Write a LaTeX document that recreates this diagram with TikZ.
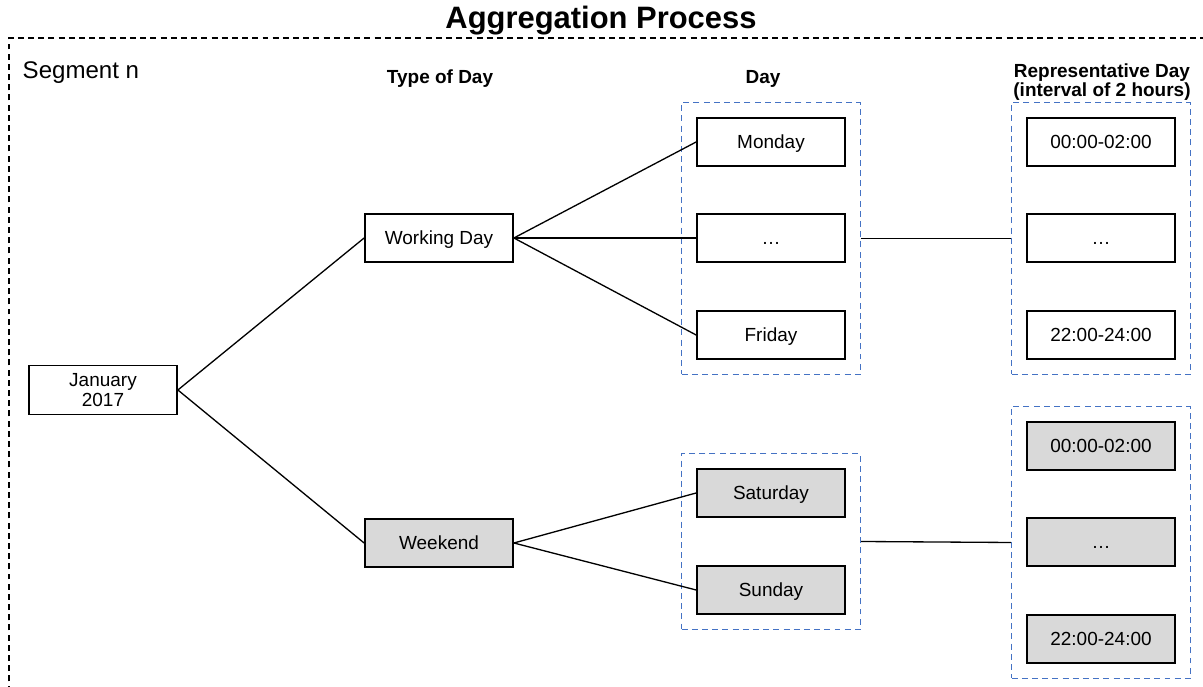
\documentclass[tikz,border=0pt]{standalone}
\usepackage{fontspec}
\setmainfont{Liberation Sans}
\usepackage{xcolor}
\usepackage{tikz}
\usetikzlibrary{positioning, fit}
\definecolor{dgrey}{HTML}{D9D9D9}
\definecolor{dblue}{HTML}{4472C4}

\begin{document}
\begin{tikzpicture}[x=1cm, y=1cm,
  daybox/.style={draw=black, line width=1pt, minimum width=2.96cm, minimum height=0.96cm,
    inner sep=0pt, text height=0.72em, text depth=0pt, font=\fontsize{10.8}{11.6}\selectfont},
  greybox/.style={daybox, fill=dgrey},
  grpbox/.style={draw=dblue, line width=0.95pt, dash pattern=on 3.4pt off 2.4pt, inner sep=0.29cm},
  head/.style={font=\fontsize{10.8}{10.8}\selectfont\bfseries, align=center},
  link/.style={line width=0.75pt}]
\useasboundingbox (0,0) rectangle (24.06,13.74);
\clip (0,0) rectangle (24.06,13.74);

% frame and headings
\node[font=\fontsize{17.6}{20}\selectfont\bfseries] (title) at (12.02,13.33) {Aggregation Process};
\draw[line width=0.75pt, dash pattern=on 3.4pt off 2.4pt] (0.18,-0.5) |- (24.6,12.98);
\node[font=\fontsize{13.7}{15}\selectfont, anchor=west] (seg) at (0.33,12.28) {Segment n};
\node[head] (htype) at (8.80,12.16) {Type of Day};
\node[head] (hday) at (15.26,12.16) {Day};
\node[head] (hrep) at (22.04,12.10) {Representative Day\\(interval of 2 hours)};

% month and type of day
\node[draw=black, line width=1pt, minimum width=2.96cm, minimum height=0.98cm, inner sep=0pt,
  align=center, font=\fontsize{10.8}{11.6}\selectfont] (jan) at (2.06,5.94) {January\\2017};
\node[daybox] (work) at (8.78,8.98) {Working Day};
\node[greybox] (wend) at (8.78,2.88) {Weekend};

% working days
\node[daybox] (mon) at (15.42,10.90) {Monday};
\node[daybox] (wdots) at (15.42,8.98) {\dots};
\node[daybox] (fri) at (15.42,7.04) {Friday};
\node[grpbox, fit=(mon) (fri)] (wgrp) {};

% weekend days
\node[greybox] (sat) at (15.42,3.88) {Saturday};
\node[greybox] (sun) at (15.42,1.94) {Sunday};
\node[grpbox, fit=(sat) (sun)] (egrp) {};

% representative days
\node[daybox] (wr1) at (22.02,10.90) {00:00-02:00};
\node[daybox] (wr2) at (22.02,8.98) {\dots};
\node[daybox] (wr3) at (22.02,7.04) {22:00-24:00};
\node[grpbox, fit=(wr1) (wr3)] (wrep) {};
\node[greybox] (er1) at (22.02,4.82) {00:00-02:00};
\node[greybox] (er2) at (22.02,2.90) {\dots};
\node[greybox] (er3) at (22.02,0.96) {22:00-24:00};
\node[grpbox, fit=(er1) (er3)] (erep) {};

% links
\draw[link] (jan.east) -- (work.west);
\draw[link] (jan.east) -- (wend.west);
\foreach \d in {mon, wdots, fri}
  \draw[link] (work.east) -- (\d.west);
\foreach \d in {sat, sun}
  \draw[link] (wend.east) -- (\d.west);
\draw[link] (wgrp.east) -- (wrep.west);
\draw[link] (egrp.east) -- (erep.west);
\end{tikzpicture}
\end{document}
